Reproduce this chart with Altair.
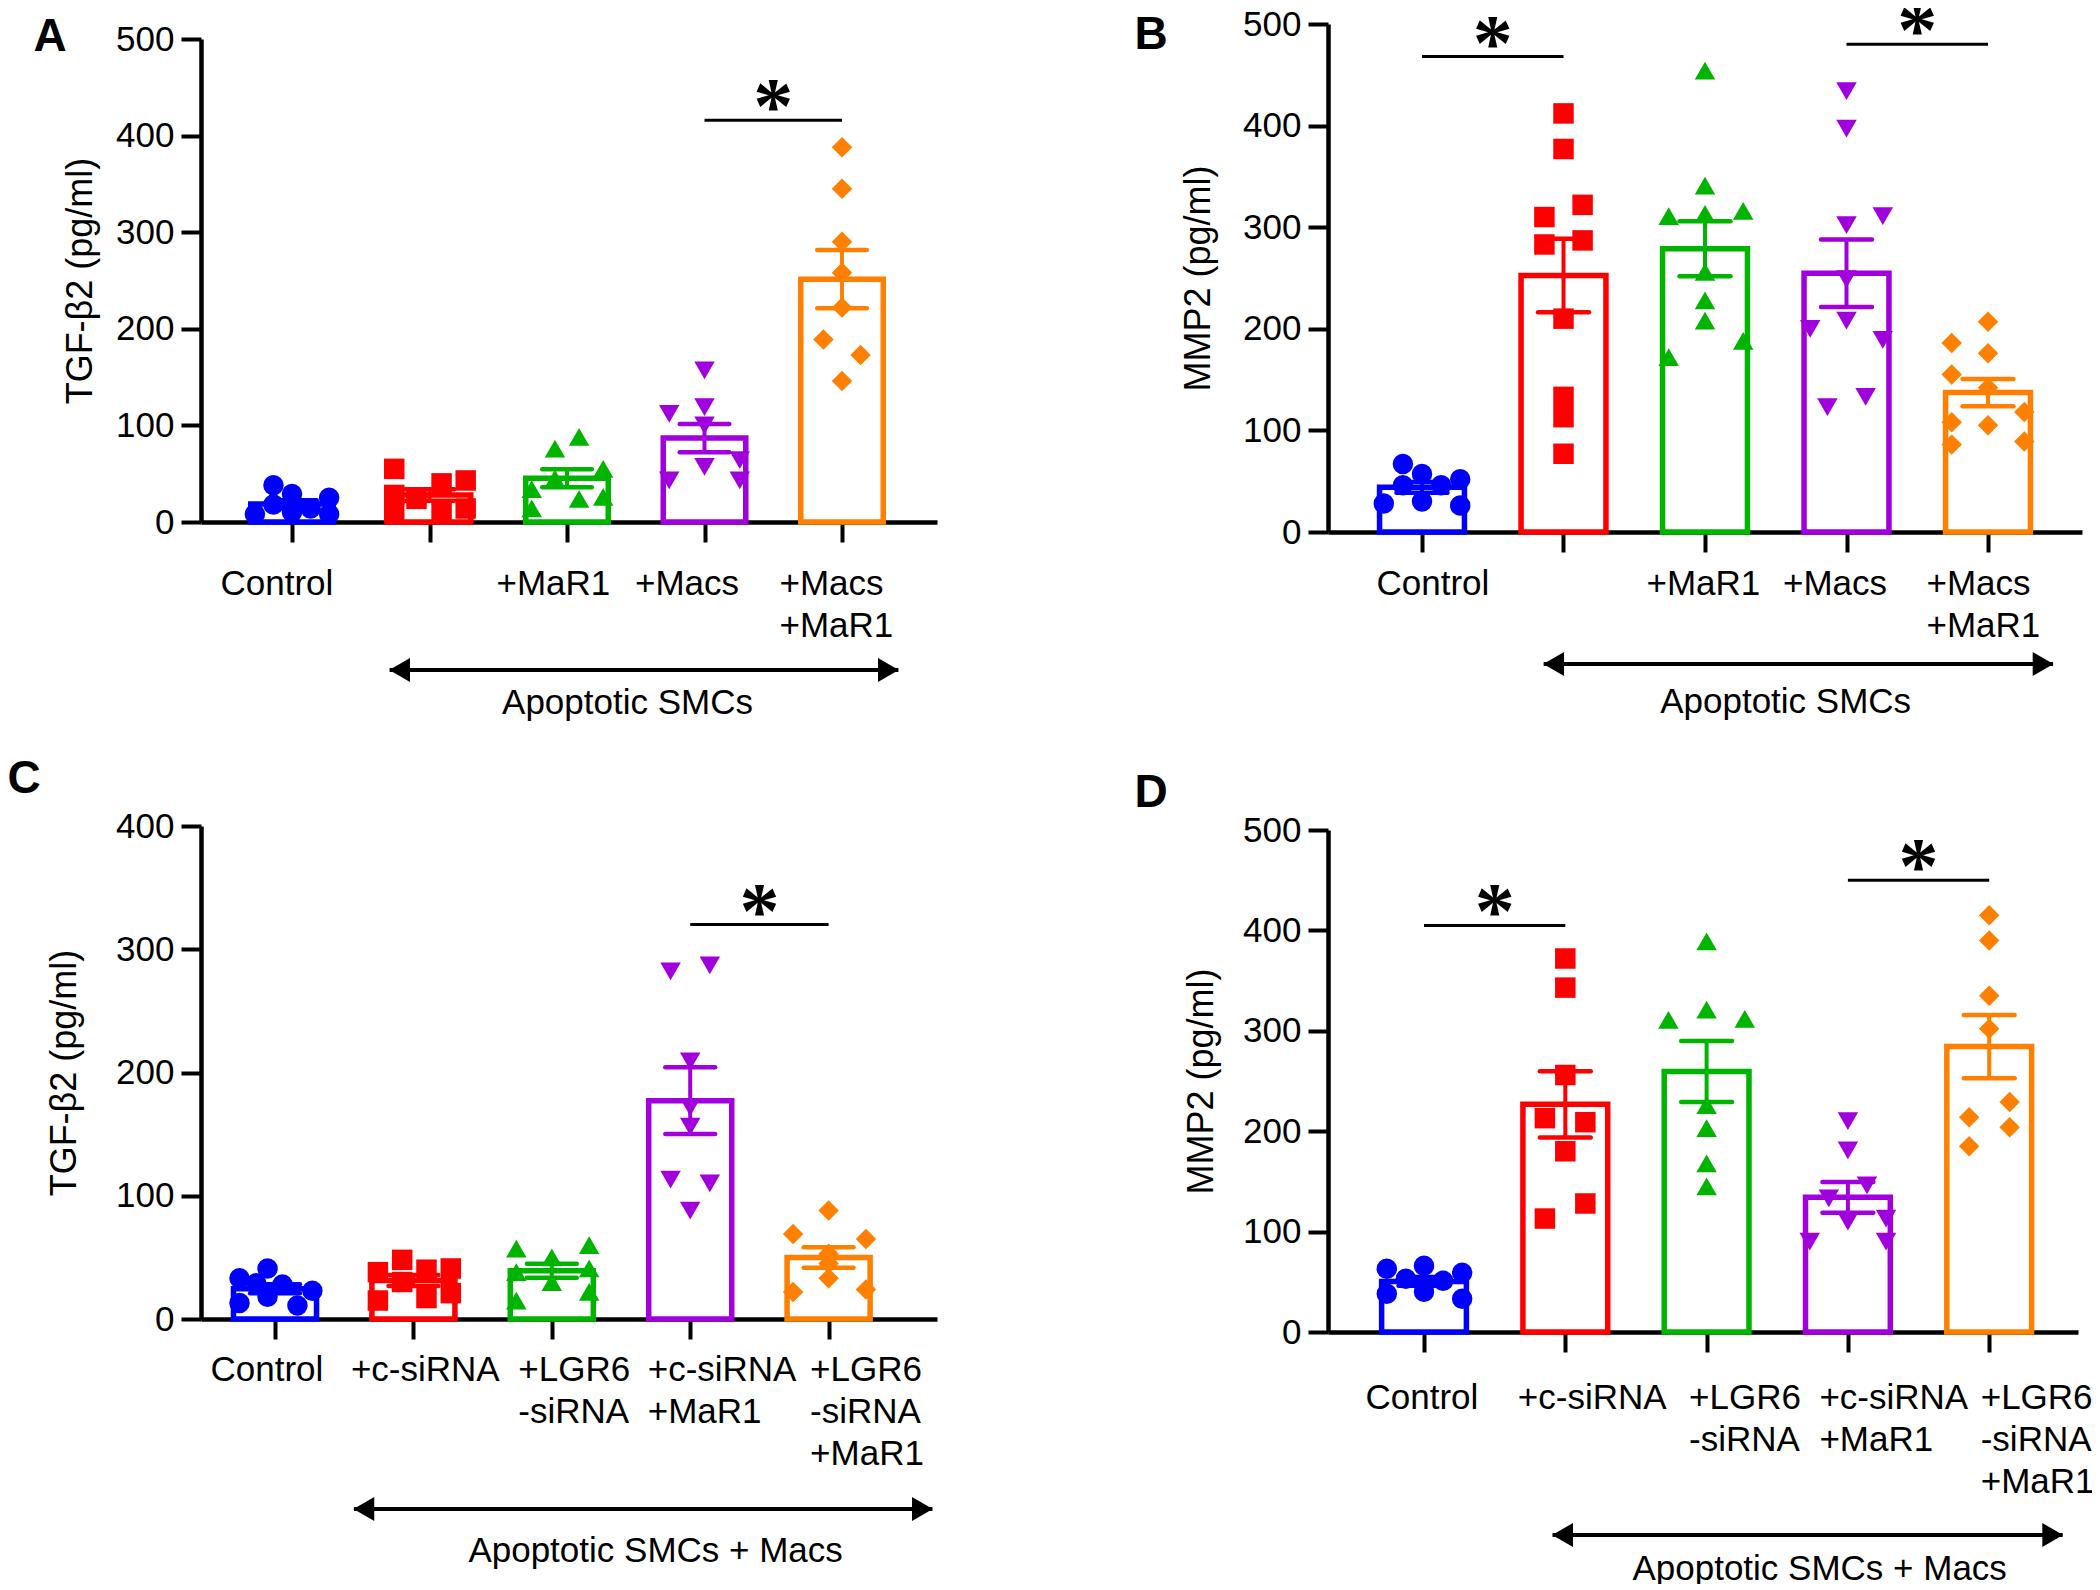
import json
import altair as alt
import pandas as pd
import numpy as np

FONT = "Liberation Sans"
GROUP_KEYS = ["g1", "g2", "g3", "g4", "g5"]
COLORS = ["#0000FF", "#FF0000", "#00B400", "#A000DC", "#FF8000"]
SHAPES = ["circle", "square", "triangle-up", "triangle-down", "diamond"]

# ---------------- data ----------------
# Panel A: TGF-beta2, apoptotic SMCs
A_VALUES = [
    [38, 29, 18, 10, 14, 25, 8, 8],
    [55, 28, 9, 24, 40, 10, 43, 14],
    [88, 76, 55, 45, 34, 24, 26, 14],
    [157, 112, 119, 100, 64, 57, 43, 43],
    [388, 345, 290, 258, 222, 189, 173, 146],
]
A_JITTER = [
    [-1, 0, -1, 0, 1, 2, -2, 2],
    [-1.9, -1.9, -1.9, -0.7, 0.65, 0.65, 1.95, 1.95],
    [0.65, -0.65, 1.95, -0.65, -1.9, 0.65, 1.95, -1.9],
    [0, -1.9, 0, 0, 1.9, 0, -1.9, 1.9],
    [0, 0, 0, 0, 0, -1, 1, 0],
]
A_LABELS = [["Control"], [""], ["+MaR1"], ["+Macs"], ["+Macs", "+MaR1"]]

# Panel B: MMP2, apoptotic SMCs
B_VALUES = [
    [67, 57, 52, 46, 46, 28, 30, 26],
    [412, 377, 322, 310, 287, 283, 210, 133, 113, 77],
    [454, 341, 311, 313, 316, 256, 228, 208, 172, 188],
    [434, 397, 311, 302, 249, 200, 208, 189, 133, 123],
    [207, 186, 176, 155, 142, 118, 108, 105, 86, 89],
]
B_JITTER = [
    [-1, 0, 2, -1, 1, -2, 0, 2],
    [0, 0, 1, -1, 1, -1, 0, 0, 0, 0],
    [0, 0, -1.9, 0, 2, 0, 0, 0, -1.9, 2],
    [0, 0, 1.9, 0, 0, -1.9, 0, 1.9, 1, -1],
    [0, -1.9, 0, -1.9, 0, 1.9, -1.9, 0, -1.9, 1.9],
]
B_LABELS = A_LABELS

# Panel C: TGF-beta2, apoptotic SMCs + Macs
C_VALUES = [
    [41, 33, 29, 28, 23, 13, 18, 11],
    [48, 38, 40, 41, 30, 15, 17, 21],
    [57, 60, 50, 41, 30, 38, 15, 22],
    [287, 282, 209, 172, 156, 113, 110, 88],
    [88, 69, 65, 53, 45, 33, 24, 22],
]
C_JITTER = [
    [-0.4, -1.9, -1, 0.4, 2, -1.9, -0.4, 1.2],
    [-0.6, -1.9, 0.7, 2, -0.6, -1.9, 0.7, 2],
    [-1.9, 2, 0, 2, 0, -1.9, -1.9, 2],
    [1.05, -1.05, 0, 0, 0, -1.05, 1.05, 0],
    [0, -1.9, 2, 0, 0, 0, 2, -1.9],
]
C_LABELS = [["Control"], ["+c-siRNA"], ["+LGR6", "-siRNA"], ["+c-siRNA", "+MaR1"],
            ["+LGR6", "-siRNA", "+MaR1"]]

# Panel D: MMP2, apoptotic SMCs + Macs
D_VALUES = [
    [63, 66, 59, 53, 51, 38, 40, 33],
    [372, 343, 256, 213, 209, 180, 128, 113],
    [389, 321, 311, 312, 226, 203, 168, 145],
    [210, 181, 146, 133, 110, 113, 90, 90],
    [415, 390, 335, 302, 229, 214, 204, 185],
]
D_JITTER = [
    [-1.95, 0, 2, -0.95, 1, -1.95, 0, 2],
    [0, 0, 0, -1.07, 1.05, 0, 1.05, -1.07],
    [0, 0, -2, 2, 0, 0, 0, 0],
    [0, 0, 1, -1, 0, 2, -2, 2],
    [0, 0, 0, 0, 1.07, -1.05, 1.07, -1.05],
]
D_LABELS = C_LABELS

# significance brackets: (from group, to group, y value)
A_SIG = [(4, 5, 416)]
B_SIG = [(1, 2, 468), (4, 5, 480)]
C_SIG = [(4, 5, 320)]
D_SIG = [(1, 2, 405), (4, 5, 450)]

# group brackets (arrow span in group units) and text
A_GROUP = (1.71, 5.41, 3.44, "Apoptotic SMCs")
B_GROUP = (1.86, 5.46, 3.57, "Apoptotic SMCs")
C_GROUP = (1.57, 5.75, 3.75, "Apoptotic SMCs + Macs")
D_GROUP = (1.91, 5.52, 3.80, "Apoptotic SMCs + Macs")

# ---------------- styling / layout constants ----------------
SLOT = 0.135
BAR_HALF = 0.30
CAP_HALF = 0.18

# left edge of each x label relative to its tick, in pixels
A_LABEL_DX = [-72, 0, -71, -70, -63]
B_LABEL_DX = [-46, 0, -59, -64, -62]
C_LABEL_DX = [-65, -63, -34, -43, -19]
D_LABEL_DX = [-59, -48, -18, -29, -9]

cscale = alt.Scale(domain=GROUP_KEYS, range=COLORS)
sscale = alt.Scale(domain=GROUP_KEYS, range=SHAPES)


def make_panel(values, jitter, labels, label_dx, sig, group, ymax, ytitle, W, H,
               first_px, step_px, title_x, letter, letter_xy,
               label_pad, arrow_dy, text_dy):
    d0 = 1 - first_px / step_px
    d1 = d0 + W / step_px
    xs = alt.Scale(domain=[d0, d1], nice=False, zero=False)
    ys = alt.Scale(domain=[0, ymax], nice=False)

    pts = []
    summ = []
    for g, (vals, jit) in enumerate(zip(values, jitter)):
        for v, j in zip(vals, jit):
            pts.append({"grp": GROUP_KEYS[g], "x": g + 1 + j * SLOT, "v": v})
        arr = np.array(vals, dtype=float)
        m = arr.mean()
        se = arr.std(ddof=1) / np.sqrt(len(arr))
        c = g + 1
        summ.append({"grp": GROUP_KEYS[g], "xc": c, "xl": c - BAR_HALF, "xr": c + BAR_HALF,
                     "cl": c - CAP_HALF, "cr": c + CAP_HALF, "m": m, "lo": m - se,
                     "hi": m + se, "zero": 0})
    pts = pd.DataFrame(pts)
    summ = pd.DataFrame(summ)

    label_expr = json.dumps(labels) + "[round(datum.value) - 1]"
    offset_cond = {
        "condition": [{"test": f"round(datum.value) == {i + 1}", "value": d}
                      for i, d in enumerate(label_dx[:-1])],
        "value": label_dx[-1],
    }
    xaxis = alt.Axis(values=[1, 2, 3, 4, 5], labelExpr=label_expr, title=None, grid=False,
                     tickSize=20, tickWidth=4, domainWidth=4.5, labelFontSize=35,
                     labelPadding=label_pad, labelLineHeight=42, labelOverlap=False,
                     labelFlush=False, labelBound=False, labelBaseline="top",
                     labelAlign="left", labelOffset=offset_cond)
    yaxis = alt.Axis(values=list(range(0, ymax + 1, 100)), title=ytitle, grid=False,
                     tickSize=20, tickWidth=4, domainWidth=4.5, labelFontSize=35,
                     labelPadding=7, titleFontSize=36, titleFontWeight="normal",
                     titleX=title_x, titleY=H / 2, titleAngle=270, titleBaseline="middle",
                     titleAlign="center", format="d")

    bars = alt.Chart(summ).mark_rect(fill="white", strokeWidth=5.5).encode(
        x=alt.X("xl:Q", scale=xs, axis=xaxis), x2="xr:Q",
        y=alt.Y("m:Q", scale=ys, axis=yaxis), y2="zero:Q",
        stroke=alt.Color("grp:N", scale=cscale, legend=None))

    points = alt.Chart(pts).mark_point(filled=True, size=420, opacity=1).encode(
        x=alt.X("x:Q", scale=xs), y=alt.Y("v:Q", scale=ys),
        color=alt.Color("grp:N", scale=cscale, legend=None),
        shape=alt.Shape("grp:N", scale=sscale, legend=None))

    err = alt.Chart(summ).mark_rule(strokeWidth=4).encode(
        x=alt.X("xc:Q", scale=xs), y=alt.Y("lo:Q", scale=ys), y2="hi:Q",
        color=alt.Color("grp:N", scale=cscale, legend=None))
    cap_hi = alt.Chart(summ).mark_rule(strokeWidth=4.5, strokeCap="round").encode(
        x=alt.X("cl:Q", scale=xs), x2="cr:Q", y=alt.Y("hi:Q", scale=ys),
        color=alt.Color("grp:N", scale=cscale, legend=None))
    cap_lo = alt.Chart(summ).mark_rule(strokeWidth=4.5, strokeCap="round").encode(
        x=alt.X("cl:Q", scale=xs), x2="cr:Q", y=alt.Y("lo:Q", scale=ys),
        color=alt.Color("grp:N", scale=cscale, legend=None))

    sdf = pd.DataFrame([{"x1": a, "x2": b, "xm": (a + b) / 2, "yv": y} for a, b, y in sig])
    sig_lines = alt.Chart(sdf).mark_rule(strokeWidth=3, color="black").encode(
        x=alt.X("x1:Q", scale=xs), x2="x2:Q", y=alt.Y("yv:Q", scale=ys))
    stars = alt.Chart(sdf).mark_text(text="*", fontSize=80, font="Liberation Serif",
                                     fontWeight="bold", baseline="alphabetic", dy=13,
                                     color="black").encode(
        x=alt.X("xm:Q", scale=xs), y=alt.Y("yv:Q", scale=ys))

    a1, a2, am, gtext = group
    gdf = pd.DataFrame([{"a1": a1, "a2": a2, "am": am, "t": gtext}])
    arrow = alt.Chart(gdf).mark_rule(strokeWidth=4, color="black").encode(
        x=alt.X("a1:Q", scale=xs), x2="a2:Q", y=alt.value(H + arrow_dy))
    head_l = alt.Chart(gdf).mark_point(shape="triangle-left", filled=True, size=576,
                                       opacity=1, color="black", xOffset=10).encode(
        x=alt.X("a1:Q", scale=xs), y=alt.value(H + arrow_dy))
    head_r = alt.Chart(gdf).mark_point(shape="triangle-right", filled=True, size=576,
                                       opacity=1, color="black", xOffset=-10).encode(
        x=alt.X("a2:Q", scale=xs), y=alt.value(H + arrow_dy))
    gtxt = alt.Chart(gdf).mark_text(fontSize=35, baseline="middle", align="center",
                                    color="black").encode(
        x=alt.X("am:Q", scale=xs), y=alt.value(H + text_dy), text="t:N")

    ldf = pd.DataFrame([{"t": letter}])
    let = alt.Chart(ldf).mark_text(fontSize=46, fontWeight="bold", align="center",
                                   baseline="middle", color="black").encode(
        text="t:N", x=alt.value(letter_xy[0]), y=alt.value(letter_xy[1]))

    return alt.layer(bars, points, err, cap_hi, cap_lo, sig_lines, stars,
                     arrow, head_l, head_r, gtxt, let).properties(width=W, height=H)


TGF = "TGF-\u03b22 (pg/ml)"
MMP = "MMP2 (pg/ml)"

pA = make_panel(A_VALUES, A_JITTER, A_LABELS, A_LABEL_DX, A_SIG, A_GROUP, 500, TGF,
                736, 483, 91, 137.5, -121, "A", (-151, -2), 24, 148, 181)
pB = make_panel(B_VALUES, B_JITTER, B_LABELS, B_LABEL_DX, B_SIG, B_GROUP, 500, MMP,
                754, 508, 94, 141.5, -130, "B", (-177, 11), 14, 132, 170)
pC = make_panel(C_VALUES, C_JITTER, C_LABELS, C_LABEL_DX, C_SIG, C_GROUP, 400, TGF,
                736, 493, 74, 138.4, -137, "C", (-177, -47), 13, 190, 232)
pD = make_panel(D_VALUES, D_JITTER, D_LABELS, D_LABEL_DX, D_SIG, D_GROUP, 500, MMP,
                750, 502, 96, 141.3, -127, "D", (-177, -37), 28, 203, 237)

spacer = alt.Chart(pd.DataFrame({"a": [0]})).mark_point(opacity=0).encode(
    x=alt.X("a:Q", axis=None), y=alt.Y("a:Q", axis=None)).properties(width=1, height=1)

col1 = alt.vconcat(spacer, alt.vconcat(pA, pC, spacing=304, bounds="flush"),
                   spacing=14, bounds="flush")
col2 = alt.vconcat(pB, pD, spacing=298, bounds="flush")

# nested flush groups count as zero width, so spacing = distance between plot left edges
chart = alt.hconcat(col1, col2, spacing=1127, bounds="flush").properties(
    padding={"left": 193, "top": 16, "right": 1891, "bottom": 1560},
    autosize=alt.AutoSizeParams(type="none"),
).configure_view(stroke=None).configure_axis(
    labelFont=FONT, titleFont=FONT, labelColor="black", titleColor="black",
    domainColor="black", tickColor="black"
).configure_text(font=FONT)

chart.save("out.html", embed_options={"renderer": "svg", "actions": False})
